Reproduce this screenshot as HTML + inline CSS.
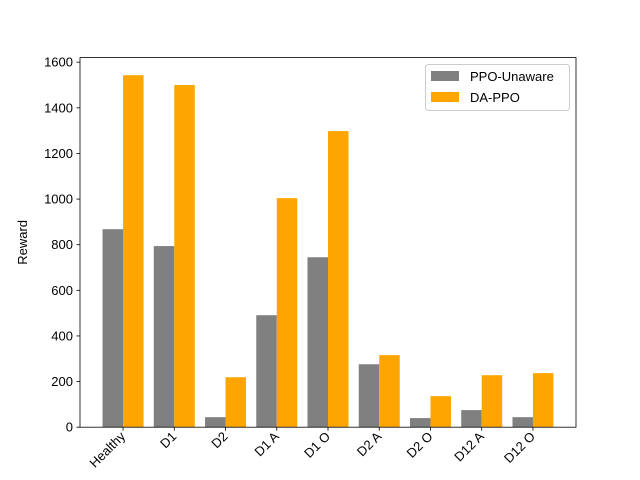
<!DOCTYPE html>
<html><head><meta charset="utf-8"><style>body{margin:0;background:#fff}svg{display:block;font-family:"Liberation Sans","DejaVu Sans",sans-serif}</style></head>
<body>
<svg id="chart" width="640" height="480" viewBox="0 0 640 480" xmlns="http://www.w3.org/2000/svg">
<rect width="640" height="480" fill="#fff"/>
<g id="bars"></g>
<g id="axes"></g>
<rect x="80" y="57.6" width="496" height="369.6" fill="none" stroke="#000" stroke-width="0.8"/>
<text transform="translate(27,242.4) rotate(-90)" text-anchor="middle" font-size="13">Reward</text>
<g>
<rect x="425.5" y="64.5" width="144" height="46" rx="3" fill="#fff" fill-opacity="0.8" stroke="#ccc"/>
<rect x="431" y="71" width="28" height="10" fill="#808080"/>
<text x="470" y="81" font-size="13">PPO-Unaware</text>
<rect x="431" y="92" width="28" height="10" fill="#ffa500"/>
<text x="470" y="102" font-size="13">DA-PPO</text>
</g>
</svg>
<script>
const categories = ["Healthy","D1","D2","D1 A","D1 O","D2 A","D2 O","D12 A","D12 O"];
const ppoUnaware = [868,794,44,491,745,276,40,75,44];
const daPpo = [1543,1500,219,1004,1298,316,136,228,237];
const yTicks = [0,200,400,600,800,1000,1200,1400,1600];
const NS="http://www.w3.org/2000/svg";
const L=80,R=576,T=57.6,B=427.2;
const yMax=Math.max(...ppoUnaware,...daPpo)*1.05;
const y=v=>B-(v/yMax)*(B-T);
const xMin=-0.84,xMax=categories.length-1+0.84;
const x=v=>L+(v-xMin)/(xMax-xMin)*(R-L);
function mk(tag,attrs,parent){const e=document.createElementNS(NS,tag);for(const k in attrs)e.setAttribute(k,attrs[k]);parent.appendChild(e);return e;}
const bars=document.getElementById('bars'),axes=document.getElementById('axes');
categories.forEach((c,i)=>{
  const g=mk('rect',{x:x(i-0.4),y:y(ppoUnaware[i]),width:x(i)-x(i-0.4),height:B-y(ppoUnaware[i]),fill:'#808080'},bars);
  
  
  const o=mk('rect',{x:x(i),y:y(daPpo[i]),width:x(i+0.4)-x(i),height:B-y(daPpo[i]),fill:'#ffa500'},bars);
  
  
  const t=mk('line',{x1:x(i),x2:x(i),y1:B,y2:B+3.5,stroke:'#000','stroke-width':0.8},axes);
  
  
  const lb=mk('text',{transform:`translate(${x(i)+3},${B+10}) rotate(-45)`,'text-anchor':'end','font-size':'13'},axes);
  lb.textContent=c;
  
  
});
yTicks.forEach(v=>{
  const t=mk('line',{x1:L-3.5,x2:L,y1:y(v),y2:y(v),stroke:'#000','stroke-width':0.8},axes);
  
  
  const lb=mk('text',{x:L-7,y:y(v)+4.5,'text-anchor':'end','font-size':'13'},axes);
  lb.textContent=v;
  
  
});
</script>
</body></html>
